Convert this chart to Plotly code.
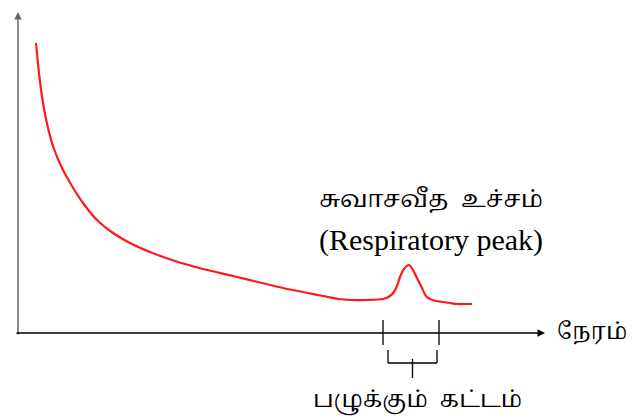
import plotly.graph_objects as go

# Respiration rate vs time (arbitrary units)
time = [18, 21, 25, 30, 36, 44, 54, 65, 79, 95, 112, 132, 157, 185, 215, 240, 265, 290,
        305, 320, 332, 350, 365, 372, 376, 379, 382, 386, 391, 395, 399, 404, 408,
        412, 418, 425, 432, 439, 446, 454]
rate = [290, 260, 230, 205, 184, 165, 147, 130, 113, 100, 90, 81, 72, 64, 57, 51, 45, 40,
        37, 34, 33, 33, 34, 37, 41, 47, 56, 64, 68, 63, 55, 45, 37,
        34, 32, 31, 30, 29, 29, 29]

# Ripening-phase interval on the time axis
phase_start, phase_end = 365, 421

title_ta = "சுவாசவீத  உச்சம்"
title_en = "(Respiratory peak)"
x_label = "நேரம்"
phase_label = "பழுக்கும்  கட்டம்"

tamil_font = "Noto Serif Tamil, Noto Sans Tamil, Lohit Tamil, Noto Sans, sans-serif"

fig = go.Figure()
fig.add_trace(go.Scatter(x=time, y=rate, mode="lines",
                         line=dict(color="#ff1a1a", width=2.2, shape="spline", smoothing=0.8),
                         hoverinfo="skip", showlegend=False))

shapes = []
# ticks marking the ripening phase
for xv in (phase_start, phase_end):
    shapes.append(dict(type="line", x0=xv, x1=xv, y0=13, y1=-12,
                       line=dict(color="black", width=1.3)))
# bracket beneath
bl, br = phase_start + 5, phase_end - 2
mid = (bl + br) / 2
shapes += [
    dict(type="line", x0=bl, x1=bl, y0=-17, y1=-30, line=dict(color="black", width=1.3)),
    dict(type="line", x0=br, x1=br, y0=-17, y1=-30, line=dict(color="black", width=1.3)),
    dict(type="line", x0=bl, x1=br, y0=-30, y1=-30, line=dict(color="black", width=1.3)),
    dict(type="line", x0=mid, x1=mid, y0=-26, y1=-45, line=dict(color="black", width=1.3)),
]

annotations = [
    # y axis arrow
    dict(x=0, y=321, ax=0, ay=-3, xref="x", yref="y", axref="x", ayref="y",
         showarrow=True, arrowhead=2, arrowsize=1, arrowwidth=1.5, arrowcolor="#666666", text=""),
    # x axis arrow
    dict(x=527, y=0, ax=-3, ay=0, xref="x", yref="y", axref="x", ayref="y",
         showarrow=True, arrowhead=2, arrowsize=1, arrowwidth=1.5, arrowcolor="black", text=""),
    dict(x=574, y=1, xref="x", yref="y", text=x_label, showarrow=False,
         font=dict(family=tamil_font, size=23, color="black")),
    dict(x=413, y=133, xref="x", yref="y", text=title_ta, showarrow=False,
         font=dict(family=tamil_font, size=24, color="black")),
    dict(x=413, y=93, xref="x", yref="y", text=title_en, showarrow=False,
         font=dict(family="Liberation Serif, Times New Roman, serif", size=30, color="black")),
    dict(x=399, y=-67, xref="x", yref="y", text=phase_label, showarrow=False,
         font=dict(family=tamil_font, size=23, color="black")),
]

fig.update_layout(
    width=632, height=420,
    margin=dict(l=0, r=0, t=0, b=0, autoexpand=False),
    paper_bgcolor="white", plot_bgcolor="white",
    xaxis=dict(range=[-18, 614], visible=False, fixedrange=True),
    yaxis=dict(range=[-87, 333], visible=False, fixedrange=True),
    shapes=shapes, annotations=annotations,
)

fig.write_html("out.html", config={"displayModeBar": False},
               post_script="document.body.style.margin='0';document.body.style.overflow='hidden';")
